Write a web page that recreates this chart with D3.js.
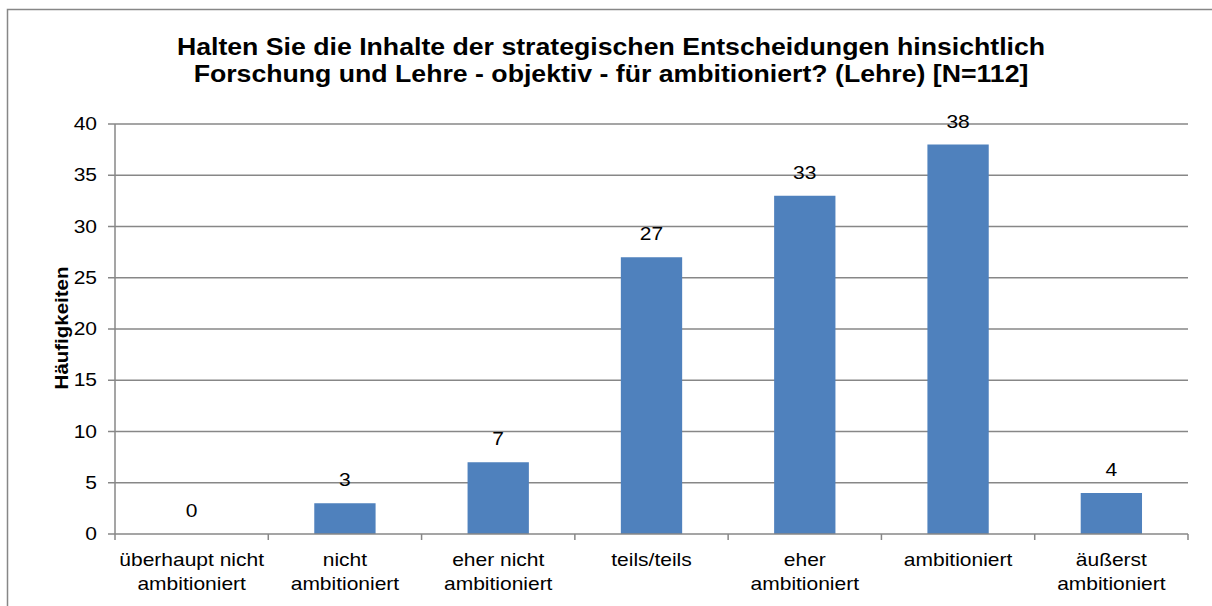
<!DOCTYPE html>
<html>
<head>
<meta charset="utf-8">
<script src="https://cdn.jsdelivr.net/npm/d3@7"></script>
<style>
  body { margin: 0; background: #fff; }
  text { font-family: "Liberation Sans", Arial, sans-serif; fill: #000; }
</style>
</head>
<body>
<svg id="chart" width="1212" height="606"></svg>
<script>
const categories = [
  ['überhaupt nicht', 'ambitioniert'],
  ['nicht', 'ambitioniert'],
  ['eher nicht', 'ambitioniert'],
  ['teils/teils'],
  ['eher', 'ambitioniert'],
  ['ambitioniert'],
  ['äußerst', 'ambitioniert']
]
const values = [0, 3, 7, 27, 33, 38, 4]
const yTicks = [0, 5, 10, 15, 20, 25, 30, 35, 40]
const titleLines = [
  'Halten Sie die Inhalte der strategischen Entscheidungen hinsichtlich',
  'Forschung und Lehre - objektiv - für ambitioniert? (Lehre) [N=112]'
]
const yLabel = 'Häufigkeiten'

const SX = 1.2 // source picture is stretched horizontally
const gridColor = '#878787'
const barColor = '#4F81BD'

const svg = d3.select('#chart')
const margin = { left: 115, right: 1188, top: 124, bottom: 534 }

// outer chart frame (right/bottom edges run off the picture)
svg.append('rect')
  .attr('x', 7.5).attr('y', 9.5)
  .attr('width', 1230).attr('height', 640)
  .attr('fill', 'none')
  .attr('stroke', gridColor)
  .attr('stroke-width', 1.5)

const x = d3.scaleBand()
  .domain(d3.range(categories.length))
  .range([margin.left, margin.right])
  .paddingInner(0.6)
  .paddingOuter(0.3)

const y = d3.scaleLinear()
  .domain([0, 40])
  .range([margin.bottom, margin.top])

// stretched text helper
function putText(g, px, py, str, sx = SX) {
  return g.append('text')
    .attr('transform', `translate(${px},${py}) scale(${sx},1)`)
    .text(str)
}

// gridlines
svg.append('g').attr('class', 'grid')
  .selectAll('line')
  .data(yTicks.filter((d) => d > 0))
  .enter()
  .append('line')
  .attr('x1', margin.left - 7)
  .attr('x2', margin.right)
  .attr('y1', (d) => y(d))
  .attr('y2', (d) => y(d))
  .attr('stroke', gridColor)
  .attr('stroke-width', 1.3)

// bars
svg.append('g').attr('class', 'bars')
  .selectAll('rect')
  .data(values)
  .enter()
  .append('rect')
  .attr('x', (d, i) => x(i))
  .attr('width', x.bandwidth())
  .attr('y', (d) => y(d))
  .attr('height', (d) => y(0) - y(d))
  .attr('fill', barColor)

// axes
const axis = svg.append('g').attr('class', 'axes')
axis.append('line')
  .attr('x1', margin.left).attr('x2', margin.left)
  .attr('y1', margin.top).attr('y2', margin.bottom)
  .attr('stroke', gridColor).attr('stroke-width', 1.5)
axis.append('line')
  .attr('x1', margin.left - 7).attr('x2', margin.right)
  .attr('y1', margin.bottom).attr('y2', margin.bottom)
  .attr('stroke', gridColor).attr('stroke-width', 1.5)

const step = x.step()
axis.selectAll('.xtick')
  .data(d3.range(categories.length + 1))
  .enter()
  .append('line')
  .attr('class', 'xtick')
  .attr('x1', (d) => margin.left + d * step)
  .attr('x2', (d) => margin.left + d * step)
  .attr('y1', margin.bottom)
  .attr('y2', margin.bottom + 6)
  .attr('stroke', gridColor).attr('stroke-width', 1.5)

// y tick labels
const yLab = svg.append('g').attr('font-size', '17.5px').attr('text-anchor', 'end')
yTicks.forEach((t) => putText(yLab, 97, y(t) + 6, t))

// category labels
const xLab = svg.append('g').attr('font-size', '17.5px').attr('text-anchor', 'middle')
categories.forEach((lines, i) => {
  const cx = x(i) + x.bandwidth() / 2
  lines.forEach((ln, j) => putText(xLab, cx, 566 + j * 24, ln))
})

// value labels
const vLab = svg.append('g').attr('font-size', '17.5px').attr('text-anchor', 'middle')
values.forEach((v, i) => putText(vLab, x(i) + x.bandwidth() / 2, y(v) - 17, v))

// title
const title = svg.append('g').attr('font-size', '23px').attr('font-weight', 'bold').attr('text-anchor', 'middle')
titleLines.forEach((ln, j) => putText(title, 611, 55 + j * 27, ln, 1.16))

// y axis title
svg.append('text')
  .attr('transform', `translate(68,328) rotate(-90) scale(1.17,1)`)
  .attr('text-anchor', 'middle')
  .attr('font-size', '17.5px')
  .attr('font-weight', 'bold')
  .text(yLabel)
</script>
</body>
</html>
